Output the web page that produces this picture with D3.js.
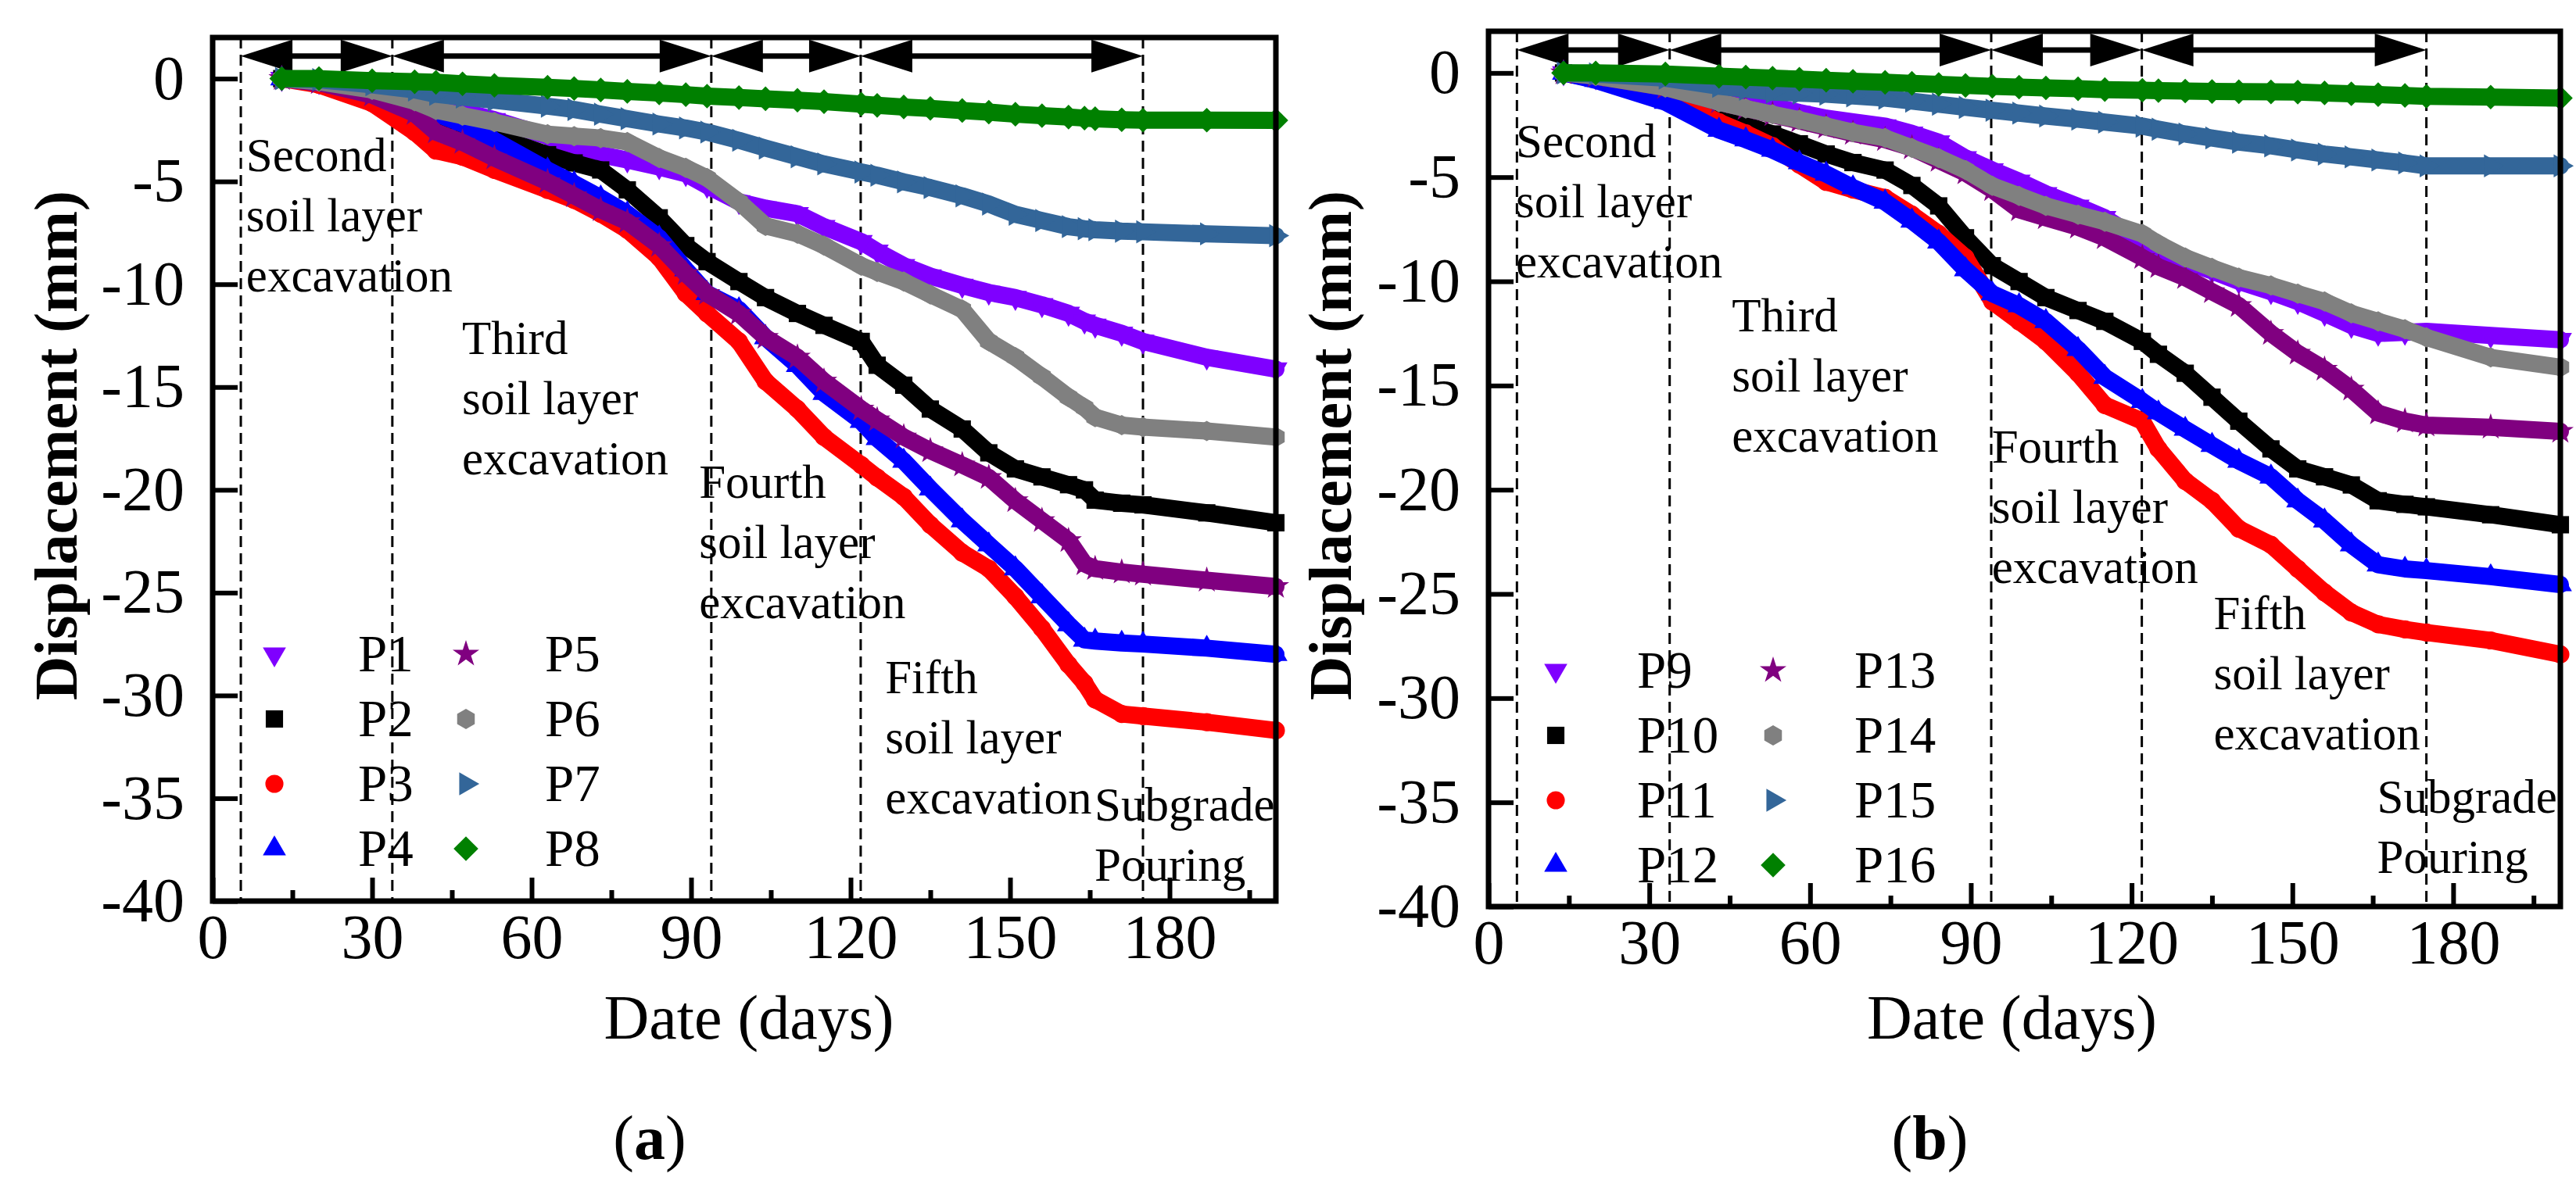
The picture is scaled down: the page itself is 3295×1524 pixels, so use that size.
<!DOCTYPE html>
<html>
<head>
<meta charset="utf-8">
<script src="https://cdn.jsdelivr.net/npm/d3@7"></script>
<style>
	body { margin: 0; background: #fff; }
	svg { display: block; }
	text { font-family: 'Liberation Serif', 'Times New Roman', serif; }
</style>
</head>
<body>
<svg id="canvas" width="3295" height="1524"></svg>
<script>
// ---- data ----
let daysA = [13, 20, 30, 38, 42, 47, 53, 63, 68, 73, 78, 84, 89, 93, 99, 104, 110, 115, 122, 125, 130, 135, 141, 146, 151, 156, 161, 164, 166, 171, 175, 187, 200];
let p1 = [0, -0.15, -0.5, -1.0, -1.3, -1.6, -2.0, -2.8, -3.47, -3.7, -3.96, -4.3, -4.63, -5.2, -5.99, -6.3, -6.57, -7.2, -7.93, -8.4, -9.1, -9.6, -10.06, -10.4, -10.65, -11.0, -11.42, -11.8, -12.0, -12.39, -12.78, -13.55, -14.13];
let p2 = [0, -0.15, -0.55, -1.2, -1.8, -2.3, -2.8, -3.7, -4.1, -4.44, -5.41, -6.77, -8.12, -8.9, -9.87, -10.65, -11.42, -12.0, -12.78, -13.94, -14.91, -16.07, -17.04, -18.2, -18.98, -19.37, -19.75, -20.0, -20.5, -20.65, -20.73, -21.12, -21.6];
let p3 = [0, -0.3, -1.2, -2.6, -3.5, -3.8, -4.44, -5.41, -5.9, -6.57, -7.35, -8.7, -10.45, -11.42, -12.78, -14.72, -16.07, -17.43, -18.79, -19.4, -20.34, -21.7, -23.06, -23.83, -25.19, -26.74, -28.5, -29.4, -30.2, -30.9, -31.0, -31.3, -31.7];
let p4 = [0, -0.2, -0.6, -1.3, -1.7, -2.2, -3.0, -4.44, -5.1, -5.8, -6.57, -7.74, -9.29, -10.45, -11.23, -12.59, -13.94, -15.3, -16.66, -17.5, -18.6, -19.95, -21.5, -22.67, -23.83, -25.19, -26.55, -27.3, -27.35, -27.45, -27.5, -27.7, -28.0];
let p5 = [0, -0.2, -0.8, -1.7, -2.6, -3.1, -3.86, -5.02, -5.7, -6.38, -6.96, -8.12, -9.48, -10.45, -11.42, -12.59, -13.55, -14.72, -16.07, -16.6, -17.43, -18.1, -18.79, -19.4, -20.53, -21.5, -22.47, -23.6, -23.83, -24.0, -24.1, -24.4, -24.7];
let p6 = [0, -0.15, -0.55, -1.1, -1.53, -1.8, -2.11, -2.7, -2.8, -2.89, -3.08, -3.86, -4.34, -4.83, -5.99, -7.16, -7.54, -8.12, -9.1, -9.4, -9.87, -10.5, -11.23, -12.78, -13.55, -14.5, -15.49, -16.0, -16.46, -16.85, -16.95, -17.14, -17.43];
let p7 = [0, -0.05, -0.3, -0.55, -0.76, -0.9, -1.05, -1.34, -1.5, -1.73, -1.95, -2.21, -2.4, -2.6, -3.0, -3.38, -3.8, -4.15, -4.54, -4.7, -5.02, -5.3, -5.7, -6.1, -6.6, -6.9, -7.2, -7.3, -7.35, -7.42, -7.45, -7.55, -7.64];
let p8 = [0, 0, -0.1, -0.15, -0.18, -0.25, -0.33, -0.42, -0.48, -0.55, -0.62, -0.7, -0.78, -0.85, -0.92, -0.98, -1.05, -1.12, -1.24, -1.3, -1.38, -1.45, -1.55, -1.63, -1.73, -1.8, -1.87, -1.92, -1.95, -2.0, -2.02, -2.02, -2.03];

let daysB = [14, 20, 33, 43, 48, 53, 58, 63, 68, 74, 79, 84, 89, 94, 99, 104, 110, 115, 122, 125, 130, 135, 140, 146, 151, 156, 161, 166, 171, 175, 187, 200];
let p9 = [0, -0.2, -0.6, -1.02, -1.3, -1.59, -1.9, -2.17, -2.35, -2.55, -2.9, -3.32, -4.08, -4.66, -5.2, -5.8, -6.4, -6.95, -8.1, -8.5, -9.05, -9.5, -10.0, -10.5, -10.97, -11.54, -12.12, -12.5, -12.45, -12.4, -12.6, -12.8];
let p10 = [0, -0.2, -1.0, -2.17, -2.5, -2.93, -3.4, -3.89, -4.3, -4.66, -5.4, -6.38, -7.91, -9.25, -10.01, -10.78, -11.4, -11.92, -12.88, -13.5, -14.41, -15.56, -16.71, -18.04, -19.0, -19.38, -19.77, -20.53, -20.7, -20.82, -21.2, -21.68];
let p11 = [0, -0.3, -1.1, -2.36, -2.9, -3.51, -4.4, -5.23, -5.6, -5.99, -6.8, -7.72, -8.86, -10.97, -11.92, -12.88, -14.41, -15.94, -16.71, -18.04, -19.58, -20.53, -21.87, -22.64, -23.79, -24.93, -25.89, -26.46, -26.7, -26.85, -27.23, -27.9];
let p12 = [0, -0.35, -1.4, -2.74, -3.2, -3.7, -4.3, -4.85, -5.5, -6.19, -7.1, -8.1, -9.44, -10.59, -11.16, -11.92, -13.26, -14.6, -15.75, -16.3, -17.09, -17.86, -18.62, -19.38, -20.53, -21.49, -22.64, -23.6, -23.8, -23.88, -24.17, -24.55];
let p13 = [0, -0.15, -0.7, -1.4, -1.7, -2.0, -2.3, -2.6, -2.9, -3.2, -3.6, -4.2, -4.8, -5.6, -6.57, -6.95, -7.4, -7.91, -8.86, -9.3, -9.82, -10.5, -11.16, -12.5, -13.45, -14.22, -15.18, -16.32, -16.71, -16.9, -17.0, -17.2];
let p14 = [0, -0.15, -0.7, -1.4, -1.7, -1.98, -2.25, -2.55, -2.85, -3.12, -3.6, -4.08, -4.66, -5.42, -5.9, -6.38, -6.8, -7.14, -7.72, -8.2, -8.86, -9.35, -9.82, -10.2, -10.59, -10.97, -11.54, -11.92, -12.3, -12.69, -13.65, -14.12];
let p15 = [0, -0.05, -0.25, -0.64, -0.78, -0.92, -0.97, -1.02, -1.1, -1.21, -1.35, -1.5, -1.65, -1.79, -1.93, -2.07, -2.22, -2.36, -2.55, -2.7, -2.93, -3.12, -3.32, -3.5, -3.7, -3.89, -4.03, -4.18, -4.32, -4.46, -4.46, -4.46];
let p16 = [0, 0, -0.05, -0.16, -0.2, -0.25, -0.3, -0.35, -0.4, -0.45, -0.5, -0.55, -0.6, -0.64, -0.68, -0.72, -0.76, -0.8, -0.83, -0.85, -0.87, -0.89, -0.9, -0.91, -0.92, -0.96, -1.0, -1.04, -1.08, -1.12, -1.16, -1.21];

let namesA = ['P1', 'P2', 'P3', 'P4', 'P5', 'P6', 'P7', 'P8'];
let namesB = ['P9', 'P10', 'P11', 'P12', 'P13', 'P14', 'P15', 'P16'];
let xTicks = [0, 30, 60, 90, 120, 150, 180];
let xMinorTicks = [15, 45, 75, 105, 135, 165, 195];
let yTicks = [0, -5, -10, -15, -20, -25, -30, -35, -40];
let stageDays = [5.3, 33.8, 93.8, 121.9, 175];
let stageLabels = [
	['Second', 'soil layer', 'excavation'],
	['Third', 'soil layer', 'excavation'],
	['Fourth', 'soil layer', 'excavation'],
	['Fifth', 'soil layer', 'excavation'],
	['Subgrade', 'Pouring']
];

// ---- styling ----
let colors = ['#7f00ff', '#000000', '#ff0000', '#0000ff', '#800080', '#808080', '#336699', '#008000'];
let shapes = ['triDown', 'square', 'circle', 'triUp', 'star', 'hexagon', 'triRight', 'diamond'];

let canvas = d3.select('#canvas');

let markerPath = (shape) => {
	if (shape === 'triUp' || shape === 'triDown' || shape === 'triRight') return d3.symbol(d3.symbolTriangle, 380)();
	if (shape === 'square') return d3.symbol(d3.symbolSquare, 490)();
	if (shape === 'circle') return d3.symbol(d3.symbolCircle, 420)();
	if (shape === 'star') return d3.symbol(d3.symbolStar, 360)();
	if (shape === 'diamond') return d3.symbol(d3.symbolSquare, 500)();
	if (shape === 'hexagon') {
		let r = 13;
		let pts = d3.range(6).map((i) => {
			let a = Math.PI / 2 + (i * Math.PI) / 3;
			return [r * Math.cos(a), r * Math.sin(a)];
		});
		return 'M' + pts.join('L') + 'Z';
	}
};

let markerRotate = (shape) => {
	if (shape === 'triDown') return 180;
	if (shape === 'triRight') return 90;
	if (shape === 'diamond') return 45;
	return 0;
};

let drawPanel = (cfg) => {
	let x = d3.scaleLinear().domain([0, 200]).range([cfg.left, cfg.right]);
	let y = d3.scaleLinear().domain([-40, 2]).range([cfg.bottom, cfg.top]);
	let g = canvas.append('g');

	// stage boundaries
	g.selectAll('line.stage')
		.data(stageDays)
		.enter()
		.append('line')
		.attr('class', 'stage')
		.attr('x1', (d) => x(d))
		.attr('x2', (d) => x(d))
		.attr('y1', cfg.top)
		.attr('y2', cfg.bottom)
		.attr('stroke', '#000')
		.attr('stroke-width', 3)
		.attr('stroke-dasharray', '14,8');

	// double arrows between stages
	let ay = y(1.1);
	let hw = 66, hh = 21;
	for (let i = 0; i < stageDays.length - 1; i++) {
		let x0 = x(stageDays[i]);
		let x1 = x(stageDays[i + 1]);
		g.append('line')
			.attr('x1', x0 + hw - 2).attr('x2', x1 - hw + 2)
			.attr('y1', ay).attr('y2', ay)
			.attr('stroke', '#000').attr('stroke-width', 7);
		g.append('path')
			.attr('d', `M${x0},${ay}L${x0 + hw},${ay - hh}L${x0 + hw},${ay + hh}Z`)
			.attr('fill', '#000');
		g.append('path')
			.attr('d', `M${x1},${ay}L${x1 - hw},${ay - hh}L${x1 - hw},${ay + hh}Z`)
			.attr('fill', '#000');
	}

	// series
	let line = d3.line().x((d) => x(d[0])).y((d) => y(d[1]));
	cfg.series.forEach((vals, i) => {
		let pts = cfg.days.map((d, j) => [d, vals[j]]);
		g.append('path')
			.attr('d', line(pts))
			.attr('fill', 'none')
			.attr('stroke', colors[i])
			.attr('stroke-width', 22)
			.attr('stroke-linejoin', 'round')
			.attr('stroke-linecap', 'round');
		g.selectAll(null)
			.data(pts)
			.enter()
			.append('path')
			.attr('d', markerPath(shapes[i]))
			.attr('transform', (d) => `translate(${x(d[0])},${y(d[1])}) rotate(${markerRotate(shapes[i])})`)
			.attr('fill', colors[i]);
	});

	// axes (ticks point inward)
	g.append('g')
		.attr('transform', `translate(0,${cfg.bottom})`)
		.call(d3.axisBottom(x).tickValues(xTicks).tickSize(-30).tickPadding(16).tickFormat((d) => String(d)));
	g.append('g')
		.attr('transform', `translate(0,${cfg.bottom})`)
		.call(d3.axisBottom(x).tickValues(xMinorTicks).tickSize(-14).tickFormat(''));
	g.append('g')
		.attr('transform', `translate(${cfg.left},0)`)
		.call(d3.axisLeft(y).tickValues(yTicks).tickSize(-32).tickPadding(36).tickFormat((d) => String(d)));
	g.selectAll('.domain').remove();
	g.selectAll('.tick line').attr('stroke', '#000').attr('stroke-width', 6);
	g.selectAll('.tick text').attr('font-size', 80).attr('fill', '#000').attr('font-family', "'Liberation Serif', serif");

	// frame
	g.append('rect')
		.attr('x', cfg.left).attr('y', cfg.top)
		.attr('width', cfg.right - cfg.left).attr('height', cfg.bottom - cfg.top)
		.attr('fill', 'none').attr('stroke', '#000').attr('stroke-width', 7);

	// stage annotations
	stageLabels.forEach((lines, i) => {
		let t = g.append('text')
			.attr('x', x(cfg.labelAt[i][0]))
			.attr('y', y(cfg.labelAt[i][1]))
			.attr('font-size', 61);
		lines.forEach((s, k) => {
			t.append('tspan').attr('x', x(cfg.labelAt[i][0])).attr('dy', k === 0 ? 0 : 77).text(s);
		});
	});

	// legend
	let lg = g.append('g');
	cfg.names.forEach((name, i) => {
		let col = i < 4 ? 0 : 1;
		let row = i % 4;
		let sx = cfg.left + cfg.legendSym[col];
		let tx = cfg.left + cfg.legendText[col];
		let cy = cfg.legendTop + row * 83;
		lg.append('path')
			.attr('d', markerPath(shapes[i]))
			.attr('transform', `translate(${sx},${cy}) rotate(${markerRotate(shapes[i])})`)
			.attr('fill', colors[i]);
		lg.append('text')
			.attr('x', tx)
			.attr('y', cy + 22)
			.attr('font-size', 67)
			.text(name);
	});

	// axis titles
	let cx = (cfg.left + cfg.right) / 2;
	g.append('text')
		.attr('x', cx + cfg.titleDx)
		.attr('y', 1329)
		.attr('text-anchor', 'middle')
		.attr('font-size', 80)
		.text('Date (days)');
	g.append('text')
		.attr('transform', `translate(${cfg.yTitleX},570) rotate(-90)`)
		.attr('text-anchor', 'middle')
		.attr('font-size', 78)
		.attr('font-weight', 'bold')
		.text('Displacement (mm)');
	let cap = g.append('text')
		.attr('x', cx - 121)
		.attr('y', 1483)
		.attr('text-anchor', 'middle')
		.attr('font-size', 80);
	cap.append('tspan').text('(');
	cap.append('tspan').attr('font-weight', 'bold').text(cfg.tag);
	cap.append('tspan').text(')');
};

drawPanel({
	left: 272, right: 1632, top: 48, bottom: 1153,
	days: daysA,
	series: [p1, p2, p3, p4, p5, p6, p7, p8],
	names: namesA,
	labelAt: [[6.3, -4.5], [46.9, -13.4], [91.5, -20.4], [126.5, -29.9], [165.9, -36.1]],
	legendSym: [79, 324], legendText: [186, 425], legendTop: 837,
	titleDx: 6, yTitleX: 98, tag: 'a'
});

drawPanel({
	left: 1904, right: 3275, top: 40, bottom: 1160,
	days: daysB,
	series: [p9, p10, p11, p12, p13, p14, p15, p16],
	names: namesB,
	labelAt: [[5.1, -4.03], [45.4, -12.4], [93.9, -18.7], [135.3, -26.7], [165.8, -35.5]],
	legendSym: [86, 364], legendText: [190, 468], legendTop: 858,
	titleDx: -16, yTitleX: 1728, tag: 'b'
});
</script>
</body>
</html>
